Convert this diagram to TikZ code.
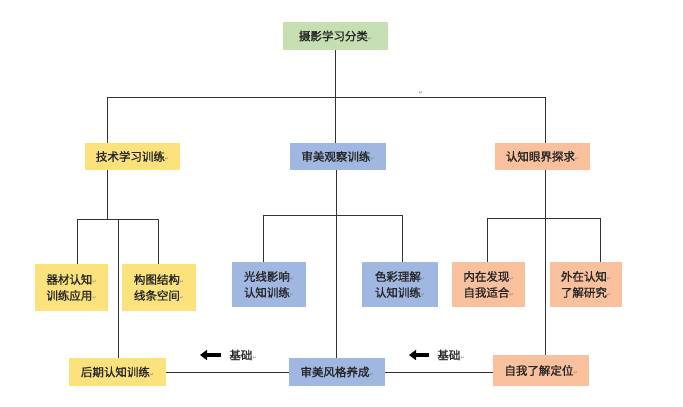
\documentclass[tikz,border=0pt]{standalone}
\usepackage{fontspec}
\newfontfamily\cjk[FakeBold=1.2]{Noto Sans CJK SC}
\newfontfamily\dv{DejaVu Sans}
\usetikzlibrary{arrows.meta}
\definecolor{cgreen}{HTML}{C6DFB2}
\definecolor{cyellow}{HTML}{FCE27C}
\definecolor{cblue}{HTML}{A0B7E2}
\definecolor{corange}{HTML}{F8C09C}
\newcommand{\pmk}{{\dv\color{gray}\fontsize{5}{5}\selectfont ↵}}
\tikzset{
  box/.style={inner sep=0pt,font=\cjk\fontsize{11.5}{16}\selectfont,text=black!85,align=center},
  ln/.style={draw=black!80,line width=0.8pt},
  barrow/.style={-{Triangle[length=7pt,width=10pt]},line width=3.8pt,black}
}
\begin{document}
\begin{tikzpicture}[x=1pt,y=-1pt]
\useasboundingbox[fill=white] (0,0) rectangle (683,407);
\newcommand{\bx}[6]{\node[box,fill=#6,minimum width=#4-#2,minimum height=#5-#3] (#1) at ({(#2+#4)/2},{(#3+#5)/2})}
\bx{top}{283}{22}{388}{50}{cgreen}{摄影学习分类\pmk};
\bx{tech}{85}{143}{180}{170}{cyellow}{技术学习训练\pmk};
\bx{aes}{290}{143}{386}{170}{cblue}{审美观察训练\pmk};
\bx{cog}{495}{143}{590}{170}{corange}{认知眼界探求\pmk};
\bx{qc}{35}{264}{108}{311}{cyellow}{器材认知\pmk\\训练应用\pmk};
\bx{gt}{122}{264}{196}{311}{cyellow}{构图结构\pmk\\线条空间\pmk};
\bx{gx}{232}{262}{306}{307}{cblue}{光线影响\pmk\\认知训练\pmk};
\bx{sc}{362}{262}{438}{307}{cblue}{色彩理解\pmk\\认知训练\pmk};
\bx{nz}{452}{262}{525}{307}{corange}{内在发现\pmk\\自我适合\pmk};
\bx{wz}{550}{262}{622}{307}{corange}{外在认知\pmk\\了解研究\pmk};
\bx{hq}{69}{358}{166}{386}{cyellow}{后期认知训练\pmk};
\bx{fg}{289}{358}{385}{386}{cblue}{审美风格养成\pmk};
\bx{zw}{493}{355}{589}{386}{corange}{自我了解定位\pmk};
% top tree
\draw[ln] (top.south) -- (top.south |- 0,97);
\draw[ln] (107,97) coordinate (hl) -- (545,97) coordinate (hr);
\draw[ln] (hl) -- (hl |- tech.north);
\draw[ln] (hr) -- (hr |- cog.north);
\node[box] (pm0) at (421,93) {\pmk};
% center vertical
\draw[ln] (top.south |- 0,97) -- (top.south |- aes.north);
\draw[ln] (aes.south -| 336,0) -- (fg.north -| 336,0);
% tech subtree
\coordinate (t1) at (107,219);
\draw[ln] (t1 |- tech.south) -- (t1);
\draw[ln] (77,219) coordinate (t0) -- (158,219) coordinate (t2);
\draw[ln] (t0) -- (t0 |- qc.north);
\draw[ln] (t2) -- (t2 |- gt.north);
\draw[ln] (118,219) coordinate (t3) -- (t3 |- hq.north);
% aes subtree
\draw[ln] (263,215) coordinate (a0) -- (402,215) coordinate (a2);
\draw[ln] (a0) -- (a0 |- gx.north);
\draw[ln] (a2) -- (a2 |- sc.north);
% cog subtree
\draw[ln] (487,218) coordinate (c0) -- (600,218) coordinate (c2);
\draw[ln] (c0) -- (c0 |- nz.north);
\draw[ln] (c2) -- (c2 |- wz.north);
\draw[ln] (545,0 |- cog.south) -- (545,0 |- zw.north);
% bottom
\draw[ln] (hq.east) -- (fg.west);
\draw[ln] (fg.east) -- (fg.east -| zw.west);
% arrows
\coordinate (ar1s) at (221,355); \coordinate (ar1e) at (200,355);
\draw[barrow] (ar1s) -- (ar1e);
\node[box] (jc1) at (243,355) {基础\pmk};
\coordinate (ar2s) at (429,355); \coordinate (ar2e) at (409,355);
\draw[barrow] (ar2s) -- (ar2e);
\node[box] (jc2) at (451,355) {基础\pmk};
\end{tikzpicture}
\end{document}
